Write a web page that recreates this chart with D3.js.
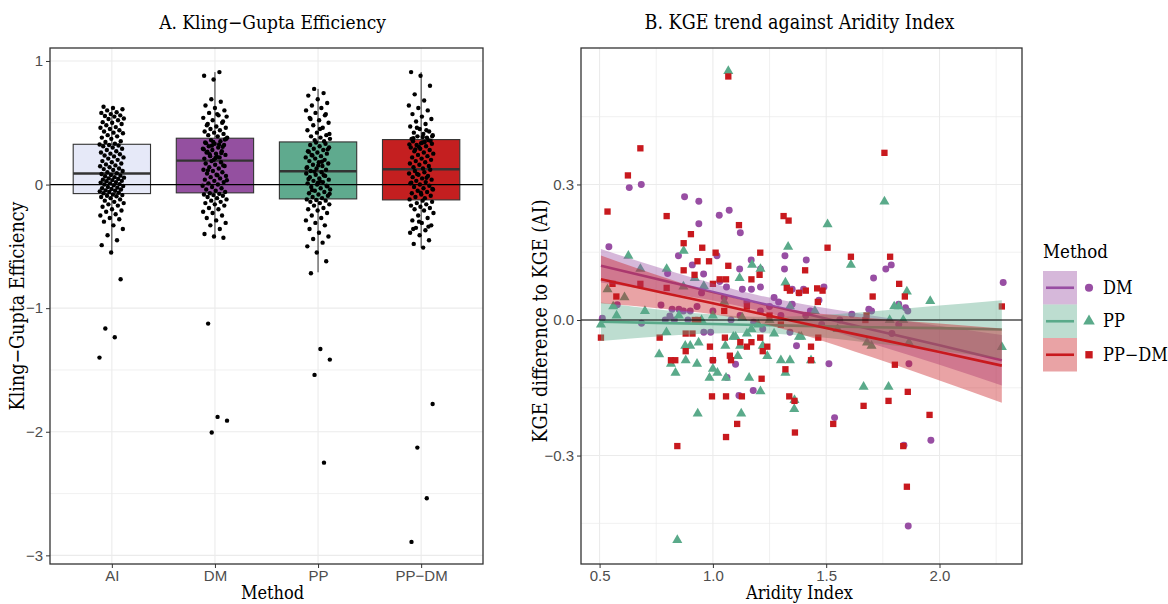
<!DOCTYPE html>
<html>
<head>
<meta charset="utf-8">
<script src="https://cdn.jsdelivr.net/npm/d3@7"></script>
<style>
  body { margin: 0; background: #fff; }
  .serif { font-family: "DejaVu Serif Condensed", "DejaVu Serif", serif; font-stretch: condensed; fill: #000; }
  .tick text { font-family: "Liberation Sans", Arial, sans-serif; font-size: 15px; fill: #4d4d4d; }
</style>
</head>
<body>
<svg id="chart" width="1168" height="604"></svg>
<script>
// ---------- panel A data ----------
const methods = ["AI", "DM", "PP", "PP−DM"];
const boxFill = ["#e6e9f8", "#9450a0", "#5faa8e", "#c41f20"];
const boxLow  = [-0.55, -0.43, -0.71, -0.51];
const boxQ1   = [-0.073, -0.067, -0.116, -0.124];
const boxMed  = [0.089, 0.194, 0.108, 0.124];
const boxQ3   = [0.326, 0.375, 0.345, 0.364];
const boxHigh = [0.63, 0.91, 0.774, 0.91];

const kgeAI = [-1.40, -1.235, -1.165, -0.766, -0.55, -0.49, -0.45, -0.41, -0.36, -0.33, -0.30, -0.28, -0.27, -0.25,
  -0.24, -0.22, -0.21, -0.20, -0.18, -0.17, -0.16, -0.15, -0.14, -0.13, -0.12, -0.11, -0.10, -0.095, -0.09, -0.085,
  -0.08, -0.07, -0.066, -0.06, -0.055, -0.05, -0.047, -0.04, -0.036, -0.03, -0.025, -0.02, -0.012, -0.006, 0.0, 0.004,
  0.01, 0.016, 0.02, 0.027, 0.03, 0.036, 0.04, 0.046, 0.05, 0.056, 0.06, 0.067, 0.072, 0.078, 0.085, 0.092, 0.10,
  0.11, 0.118, 0.125, 0.13, 0.14, 0.148, 0.155, 0.163, 0.17, 0.18, 0.19, 0.2, 0.21, 0.22, 0.228, 0.235, 0.245, 0.25,
  0.26, 0.27, 0.28, 0.29, 0.30, 0.31, 0.316, 0.32, 0.324, 0.33, 0.345, 0.35, 0.37, 0.38, 0.39, 0.40, 0.415, 0.42,
  0.43, 0.44, 0.45, 0.46, 0.465, 0.48, 0.49, 0.50, 0.505, 0.52, 0.53, 0.535, 0.55, 0.555, 0.56, 0.57, 0.58, 0.585,
  0.60, 0.61, 0.62, 0.63];
const kgeDM = [-2.006, -1.91, -1.88, -1.125, -0.43, -0.42, -0.40, -0.36, -0.33, -0.31, -0.29, -0.27, -0.25, -0.23,
  -0.22, -0.2, -0.19, -0.17, -0.16, -0.15, -0.14, -0.13, -0.12, -0.11, -0.1, -0.09, -0.085, -0.08, -0.075, -0.07,
  -0.06, -0.05, -0.04, -0.03, -0.02, -0.01, 0.0, 0.01, 0.02, 0.03, 0.04, 0.05, 0.06, 0.07, 0.08, 0.09, 0.1, 0.11,
  0.12, 0.13, 0.14, 0.15, 0.16, 0.17, 0.18, 0.19, 0.035, 0.075, 0.115, 0.155, 0.2, 0.21, 0.22, 0.23, 0.24, 0.25,
  0.26, 0.27, 0.28, 0.29, 0.3, 0.31, 0.32, 0.33, 0.34, 0.35, 0.36, 0.37, 0.225, 0.265, 0.305, 0.345, 0.285, 0.325,
  0.245, 0.365, 0.215, 0.335, 0.255, 0.315, 0.38, 0.39, 0.4, 0.41, 0.42, 0.43, 0.44, 0.45, 0.46, 0.47, 0.48, 0.5,
  0.52, 0.54, 0.56, 0.58, 0.6, 0.62, 0.64, 0.67, 0.69, 0.55, 0.57, 0.49, 0.51, 0.85, 0.88, 0.91];
const kgePP = [-2.25, -1.54, -1.416, -1.33, -0.718, -0.62, -0.55, -0.5, -0.47, -0.44, -0.42, -0.39, -0.36, -0.33,
  -0.31, -0.29, -0.27, -0.25, -0.23, -0.21, -0.2, -0.19, -0.17, -0.16, -0.15, -0.14, -0.13, -0.125, -0.12, -0.11,
  -0.1, -0.09, -0.08, -0.07, -0.06, -0.05, -0.04, -0.03, -0.02, -0.01, 0.0, 0.01, 0.02, 0.03, 0.04, 0.05, 0.06,
  0.07, 0.08, 0.09, 0.1, -0.045, -0.015, 0.015, 0.045, 0.075, 0.105, -0.075, 0.025, 0.11, 0.12, 0.13, 0.14, 0.15,
  0.16, 0.17, 0.18, 0.19, 0.2, 0.21, 0.22, 0.23, 0.24, 0.25, 0.26, 0.27, 0.28, 0.29, 0.3, 0.31, 0.32, 0.33, 0.34,
  0.135, 0.185, 0.235, 0.285, 0.155, 0.265, 0.35, 0.36, 0.37, 0.38, 0.39, 0.4, 0.42, 0.44, 0.46, 0.48, 0.5, 0.52,
  0.54, 0.56, 0.58, 0.6, 0.62, 0.64, 0.66, 0.69, 0.72, 0.74, 0.774, 0.41, 0.45, 0.53, 0.57];
const kgePPDM = [-2.891, -2.538, -2.128, -1.775, -0.51, -0.48, -0.45, -0.41, -0.39, -0.37, -0.35, -0.33, -0.31,
  -0.29, -0.27, -0.25, -0.23, -0.21, -0.2, -0.19, -0.18, -0.17, -0.16, -0.15, -0.14, -0.13, -0.36, -0.34, -0.30,
  -0.12, -0.11, -0.1, -0.09, -0.08, -0.07, -0.06, -0.05, -0.04, -0.03, -0.02, -0.01, 0.0, 0.01, 0.02, 0.03, 0.04,
  0.05, 0.06, 0.07, 0.08, 0.09, 0.1, 0.11, 0.12, -0.065, 0.015, 0.055, 0.085, -0.035, 0.13, 0.14, 0.15, 0.16, 0.17,
  0.18, 0.19, 0.2, 0.21, 0.22, 0.23, 0.24, 0.25, 0.26, 0.27, 0.28, 0.29, 0.3, 0.31, 0.32, 0.33, 0.34, 0.35, 0.36,
  0.305, 0.325, 0.345, 0.285, 0.355, 0.335, 0.37, 0.38, 0.39, 0.4, 0.41, 0.42, 0.43, 0.45, 0.47, 0.49, 0.51, 0.53,
  0.55, 0.57, 0.6, 0.62, 0.64, 0.68, 0.73, 0.8, 0.88, 0.91, 0.44, 0.46, 0.39, 0.385, 0.375];
const kgeByMethod = [kgeAI, kgeDM, kgePP, kgePPDM];

// ---------- panel B data ----------
const seriesNames = ["DM", "PP", "PP−DM"];
const seriesColor = ["#984ea3", "#5aaa8a", "#c8191e"];

const dmAridity = [0.541, 0.631, 0.684, 0.875, 0.938, 1.028, 1.072, 0.938, 1.121, 0.848, 1.018, 0.909, 0.959, 1.169,
  1.118, 1.21, 1.318, 1.316, 1.412, 1.709, 1.763, 1.787, 2.281, 1.49, 1.21, 1.13, 1.17, 1.35, 1.4, 1.06, 0.8, 0.771,
  0.82, 0.85, 1.27, 1.38, 1.468, 1.688, 1.613, 1.82, 1.85, 0.512, 0.685, 0.79, 0.81, 0.83, 0.89, 0.578, 0.87, 0.9,
  0.93, 1.0, 1.12, 1.21, 1.29, 1.35, 1.41, 1.43, 1.7, 1.86, 1.82, 1.79, 0.96, 0.99, 1.22, 1.34, 1.062, 1.1, 1.0,
  1.115, 1.178, 1.369, 1.512, 1.537, 1.865, 1.843, 1.962, 1.862, 1.05, 1.15, 1.25, 1.08, 1.18, 0.95, 1.03, 1.3,
  1.48, 1.56];
const dmDiff = [0.162, 0.293, 0.300, 0.273, 0.263, 0.232, 0.243, 0.213, 0.193, 0.142, 0.142, 0.122, 0.102, 0.133,
  0.113, 0.113, 0.142, 0.113, 0.133, 0.093, 0.113, 0.122, 0.083, 0.073, 0.073, 0.068, 0.068, 0.068, 0.068, 0.073,
  0.103, 0.033, 0.024, 0.024, 0.05, 0.06, 0.044, 0.024, 0.013, 0.035, 0.027, 0.004, -0.007, 0.0, 0.009, 0.0, 0.0,
  0.034, 0.02, 0.02, 0.03, 0.02, 0.01, 0.02, 0.04, 0.035, 0.01, 0.02, 0.02, 0.02, -0.01, -0.03, -0.027, -0.027,
  -0.02, -0.027, -0.127, -0.098, -0.089, -0.167, -0.156, -0.057, -0.097, -0.216, -0.097, -0.277, -0.266, -0.456,
  0.05, 0.04, 0.03, 0.0, -0.005, 0.06, 0.085, 0.01, -0.01, 0.0];

const ppAridity = [1.068, 1.757, 1.506, 1.332, 0.627, 0.871, 1.173, 1.609, 0.796, 0.68, 0.92, 1.118, 0.535, 1.21,
  1.32, 1.856, 1.959, 0.87, 0.96, 0.506, 0.56, 0.575, 0.763, 0.795, 0.815, 0.835, 0.88, 0.878, 0.9, 0.93, 0.937,
  0.933, 0.843, 0.985, 1.0, 1.02, 1.058, 1.055, 1.09, 1.1, 1.11, 1.125, 1.12, 1.15, 1.17, 1.16, 1.21, 1.22, 1.24,
  1.27, 1.3, 1.34, 1.32, 1.36, 1.359, 1.39, 1.433, 1.665, 1.775, 1.7, 1.68, 1.865, 2.275, 1.78, 1.84, 1.82, 1.34,
  1.05, 1.38, 1.8, 0.61, 0.7, 0.95, 1.0, 1.13, 1.25, 1.2, 1.45, 1.55, 0.85];
const ppDiff = [0.551, 0.262, 0.212, 0.162, 0.142, 0.153, 0.122, 0.122, 0.113, 0.113, 0.093, 0.093, 0.068, 0.113,
  0.083, 0.063, 0.042, 0.074, 0.075, -0.01, 0.03, 0.01, -0.076, -0.027, -0.097, -0.117, -0.089, -0.057, -0.057,
  -0.097, -0.05, -0.207, -0.487, -0.128, -0.108, -0.117, -0.128, -0.057, -0.037, -0.037, -0.08, -0.207, -0.057,
  -0.03, -0.02, -0.128, -0.158, -0.057, -0.08, -0.03, -0.089, -0.089, -0.117, -0.177, -0.197, -0.037, -0.089,
  -0.148, -0.148, -0.057, -0.05, -0.05, -0.06, 0.0, 0.0, 0.03, 0.03, 0.04, -0.037, 0.03, 0.05, 0.02, 0.0, 0.01,
  0.005, 0.0, -0.01, 0.02, -0.02, 0.01];

const ppdmAridity = [1.068, 0.68, 0.625, 1.757, 0.535, 0.796, 1.312, 1.334, 1.115, 0.903, 0.871, 0.953, 1.506, 1.012,
  1.209, 1.609, 1.782, 0.932, 0.983, 1.068, 0.871, 1.407, 1.206, 0.919, 1.17, 1.058, 1.03, 1.822, 0.557, 0.68,
  0.796, 1.0, 0.574, 1.705, 1.847, 1.326, 1.34, 1.484, 1.41, 1.463, 1.38, 1.678, 2.275, 1.46, 0.88, 0.91, 0.92,
  0.935, 1.673, 0.506, 0.765, 0.88, 0.815, 0.834, 0.987, 1.0, 1.075, 1.08, 1.121, 1.15, 1.17, 1.209, 1.22, 1.24,
  1.215, 1.32, 1.433, 1.433, 1.465, 1.053, 0.996, 1.058, 1.128, 1.337, 1.36, 1.107, 1.058, 1.362, 0.843, 1.531,
  1.665, 1.775, 1.86, 1.803, 1.956, 1.84, 1.856, 1.05, 1.15, 1.25, 1.3];
const ppdmDiff = [0.539, 0.38, 0.32, 0.37, 0.24, 0.23, 0.23, 0.22, 0.21, 0.19, 0.17, 0.16, 0.16, 0.149, 0.149, 0.14,
  0.14, 0.13, 0.13, 0.12, 0.11, 0.11, 0.1, 0.1, 0.09, 0.09, 0.09, 0.08, 0.08, 0.08, 0.071, 0.08, 0.052, 0.052,
  0.052, 0.071, 0.065, 0.065, 0.065, 0.04, 0.06, 0.01, 0.03, 0.07, -0.03, -0.03, 0.0, 0.0, 0.0, -0.039, -0.039,
  -0.069, -0.089, -0.089, -0.059, -0.089, -0.079, -0.089, -0.049, -0.059, -0.049, -0.039, -0.069, -0.059, -0.13,
  -0.109, -0.059, -0.089, -0.039, -0.039, -0.169, -0.169, -0.169, -0.169, -0.179, -0.23, -0.259, -0.249, -0.279,
  -0.23, -0.19, -0.179, -0.159, -0.099, -0.21, -0.279, -0.369, 0.02, 0.03, 0.01, -0.01];

const aridityByMethod = [dmAridity, ppAridity, ppdmAridity];
const diffByMethod = [dmDiff, ppDiff, ppdmDiff];

// linear fit with 95% band at a few aridity values
const bandAridity = [0.506, 0.8, 1.0, 1.2, 1.4, 1.7, 2.0, 2.275];
const dmFit  = [0.120, 0.085, 0.062, 0.038, 0.015, -0.021, -0.056, -0.089];
const dmHalf = [0.037, 0.025, 0.019, 0.017, 0.020, 0.031, 0.043, 0.056];
const ppFit  = [-0.004, -0.007, -0.009, -0.011, -0.013, -0.016, -0.018, -0.021];
const ppHalf = [0.0425, 0.028, 0.021, 0.018, 0.022, 0.035, 0.050, 0.065];
const ppdmFit  = [0.090, 0.058, 0.037, 0.015, -0.007, -0.039, -0.071, -0.101];
const ppdmHalf = [0.053, 0.034, 0.024, 0.021, 0.026, 0.043, 0.063, 0.082];
const fitByMethod = [dmFit, ppFit, ppdmFit];
const halfByMethod = [dmHalf, ppHalf, ppdmHalf];

// ---------- drawing ----------
const svg = d3.select("#chart");
const gridColor = "#ebebeb";
const frameColor = "#333333";

function frame(x0, x1, y0, y1) {
  svg.append("rect")
    .attr("x", x0).attr("y", y0)
    .attr("width", x1 - x0).attr("height", y1 - y0)
    .attr("fill", "none").attr("stroke", frameColor).attr("stroke-width", 1.3);
}

function styleAxis(g) {
  g.select(".domain").remove();
  g.selectAll(".tick line").attr("stroke", frameColor);
}

// ===== Panel A =====
const A = { left: 50, right: 483, top: 48, bottom: 564 };
const xA = d3.scalePoint().domain(methods).range([A.left, A.right]).padding(0.6);
const yA = d3.scaleLinear().domain([-3.07, 1.105]).range([A.bottom, A.top]);
const step = xA.step();

const gridA = svg.append("g");
gridA.selectAll(".minor").data([-2.5, -1.5, -0.5, 0.5]).join("line")
  .attr("x1", A.left).attr("x2", A.right)
  .attr("y1", d => yA(d)).attr("y2", d => yA(d))
  .attr("stroke", gridColor).attr("stroke-width", 0.7);
gridA.selectAll(".major").data([-3, -2, -1, 0, 1]).join("line")
  .attr("x1", A.left).attr("x2", A.right)
  .attr("y1", d => yA(d)).attr("y2", d => yA(d))
  .attr("stroke", gridColor).attr("stroke-width", 1.1);
gridA.selectAll(".vmajor").data(methods).join("line")
  .attr("x1", d => xA(d)).attr("x2", d => xA(d))
  .attr("y1", A.top).attr("y2", A.bottom)
  .attr("stroke", gridColor).attr("stroke-width", 1.1);

// boxes
const boxW = step * 0.75;
const boxes = svg.append("g");
methods.forEach((m, i) => {
  const cx = xA(m);
  boxes.append("line").attr("x1", cx).attr("x2", cx)
    .attr("y1", yA(boxQ3[i])).attr("y2", yA(boxHigh[i])).attr("stroke", frameColor);
  boxes.append("line").attr("x1", cx).attr("x2", cx)
    .attr("y1", yA(boxQ1[i])).attr("y2", yA(boxLow[i])).attr("stroke", frameColor);
  boxes.append("rect")
    .attr("x", cx - boxW / 2).attr("width", boxW)
    .attr("y", yA(boxQ3[i])).attr("height", yA(boxQ1[i]) - yA(boxQ3[i]))
    .attr("fill", boxFill[i]).attr("stroke", frameColor).attr("stroke-width", 1.1);
  boxes.append("line").attr("x1", cx - boxW / 2).attr("x2", cx + boxW / 2)
    .attr("y1", yA(boxMed[i])).attr("y2", yA(boxMed[i]))
    .attr("stroke", frameColor).attr("stroke-width", 2.4);
});

// jittered points (deterministic spread, golden-ratio sequence)
const jitterWidth = 0.12;
methods.forEach((m, i) => {
  svg.append("g").selectAll("circle").data(kgeByMethod[i]).join("circle")
    .attr("cx", (d, k) => xA(m) + (((k * 0.6180339887 + i * 0.37) % 1) - 0.5) * 2 * jitterWidth * step)
    .attr("cy", d => yA(d))
    .attr("r", 2.2)
    .attr("fill", "#000");
});

svg.append("line")
  .attr("x1", A.left).attr("x2", A.right)
  .attr("y1", yA(0)).attr("y2", yA(0))
  .attr("stroke", "#000").attr("stroke-width", 1.2);

frame(A.left, A.right, A.top, A.bottom);

svg.append("g").attr("transform", `translate(${A.left},0)`)
  .call(d3.axisLeft(yA).tickValues([-3, -2, -1, 0, 1]).tickSize(4).tickPadding(3).tickFormat(d3.format("d")))
  .call(styleAxis);
svg.append("g").attr("transform", `translate(0,${A.bottom})`)
  .call(d3.axisBottom(xA).tickSize(4).tickPadding(2))
  .call(styleAxis);

svg.append("text").attr("class", "serif")
  .attr("x", (A.left + A.right) / 2 + 6).attr("y", 29)
  .attr("text-anchor", "middle").attr("font-size", 19)
  .text("A. Kling−Gupta Efficiency");
svg.append("text").attr("class", "serif")
  .attr("x", (A.left + A.right) / 2 + 6).attr("y", 599)
  .attr("text-anchor", "middle").attr("font-size", 18)
  .text("Method");
svg.append("text").attr("class", "serif")
  .attr("transform", `translate(24,${(A.top + A.bottom) / 2}) rotate(-90)`)
  .attr("text-anchor", "middle").attr("font-size", 19.5)
  .text("Kling−Gupta Efficiency");

// ===== Panel B =====
const B = { left: 581, right: 1022, top: 48, bottom: 564 };
const xB = d3.scaleLinear().domain([0.418, 2.364]).range([B.left, B.right]);
const yB = d3.scaleLinear().domain([-0.540, 0.602]).range([B.bottom, B.top]);

const gridB = svg.append("g");
gridB.selectAll(".hminor").data([-0.45, -0.15, 0.15, 0.45]).join("line")
  .attr("x1", B.left).attr("x2", B.right)
  .attr("y1", d => yB(d)).attr("y2", d => yB(d))
  .attr("stroke", gridColor).attr("stroke-width", 0.7);
gridB.selectAll(".vminor").data([0.75, 1.25, 1.75, 2.25]).join("line")
  .attr("x1", d => xB(d)).attr("x2", d => xB(d))
  .attr("y1", B.top).attr("y2", B.bottom)
  .attr("stroke", gridColor).attr("stroke-width", 0.7);
gridB.selectAll(".hmajor").data([-0.3, 0, 0.3]).join("line")
  .attr("x1", B.left).attr("x2", B.right)
  .attr("y1", d => yB(d)).attr("y2", d => yB(d))
  .attr("stroke", gridColor).attr("stroke-width", 1.1);
gridB.selectAll(".vmajor").data([0.5, 1.0, 1.5, 2.0]).join("line")
  .attr("x1", d => xB(d)).attr("x2", d => xB(d))
  .attr("y1", B.top).attr("y2", B.bottom)
  .attr("stroke", gridColor).attr("stroke-width", 1.1);

const symbols = [d3.symbolCircle, d3.symbolTriangle, d3.symbolSquare];
const symbolSize = [38, 44, 40];

seriesNames.forEach((s, i) => {
  const xs = aridityByMethod[i], ys = diffByMethod[i];
  svg.append("g").selectAll("path").data(d3.range(xs.length)).join("path")
    .attr("transform", k => `translate(${xB(xs[k])},${yB(ys[k])})`)
    .attr("d", d3.symbol().type(symbols[i]).size(symbolSize[i]))
    .attr("fill", seriesColor[i]);
});

// smooths: ribbon then line, per group
seriesNames.forEach((s, i) => {
  const fit = fitByMethod[i], half = halfByMethod[i];
  const area = d3.area()
    .x((d, k) => xB(bandAridity[k]))
    .y0((d, k) => yB(fit[k] - half[k]))
    .y1((d, k) => yB(fit[k] + half[k]))
    .curve(d3.curveMonotoneX);
  svg.append("path").datum(fit)
    .attr("d", area)
    .attr("fill", seriesColor[i]).attr("fill-opacity", 0.4);
  const line = d3.line()
    .x((d, k) => xB(bandAridity[k]))
    .y(d => yB(d));
  svg.append("path").datum(fit)
    .attr("d", line)
    .attr("fill", "none").attr("stroke", seriesColor[i]).attr("stroke-width", 2.6);
});

svg.append("line")
  .attr("x1", B.left).attr("x2", B.right)
  .attr("y1", yB(0)).attr("y2", yB(0))
  .attr("stroke", "#000").attr("stroke-width", 1.2);

frame(B.left, B.right, B.top, B.bottom);

svg.append("g").attr("transform", `translate(${B.left},0)`)
  .call(d3.axisLeft(yB).tickValues([-0.3, 0, 0.3]).tickSize(4).tickPadding(3).tickFormat(d3.format(".1f")))
  .call(styleAxis);
svg.append("g").attr("transform", `translate(0,${B.bottom})`)
  .call(d3.axisBottom(xB).tickValues([0.5, 1.0, 1.5, 2.0]).tickSize(4).tickPadding(2).tickFormat(d3.format(".1f")))
  .call(styleAxis);

svg.append("text").attr("class", "serif")
  .attr("x", (B.left + B.right) / 2 - 2).attr("y", 29)
  .attr("text-anchor", "middle").attr("font-size", 19.5)
  .text("B. KGE trend against Aridity Index");
svg.append("text").attr("class", "serif")
  .attr("x", (B.left + B.right) / 2 - 2).attr("y", 599)
  .attr("text-anchor", "middle").attr("font-size", 18)
  .text("Aridity Index");
svg.append("text").attr("class", "serif")
  .attr("transform", `translate(547,${(B.top + B.bottom) / 2 + 15}) rotate(-90)`)
  .attr("text-anchor", "middle").attr("font-size", 19.5)
  .text("KGE difference to KGE (AI)");

// ===== Legend =====
const legend = svg.append("g").attr("transform", "translate(1043,0)");
legend.append("text").attr("class", "serif")
  .attr("x", 0).attr("y", 258).attr("font-size", 18.5)
  .text("Method");
const keyTop = 271, keyH = 33.5, keyW = 34;
seriesNames.forEach((s, i) => {
  const y0 = keyTop + i * keyH;
  legend.append("rect")
    .attr("x", 0).attr("y", y0).attr("width", keyW).attr("height", keyH)
    .attr("fill", seriesColor[i]).attr("fill-opacity", 0.4);
  legend.append("line")
    .attr("x1", 3).attr("x2", keyW - 3)
    .attr("y1", y0 + keyH / 2).attr("y2", y0 + keyH / 2)
    .attr("stroke", seriesColor[i]).attr("stroke-width", 2.6);
  legend.append("path")
    .attr("transform", `translate(${keyW + 12},${y0 + keyH / 2})`)
    .attr("d", d3.symbol().type(symbols[i]).size(symbolSize[i] + 14))
    .attr("fill", seriesColor[i]);
  legend.append("text").attr("class", "serif")
    .attr("x", keyW + 26).attr("y", y0 + keyH / 2 + 6).attr("font-size", 18)
    .text(s);
});
</script>
</body>
</html>
